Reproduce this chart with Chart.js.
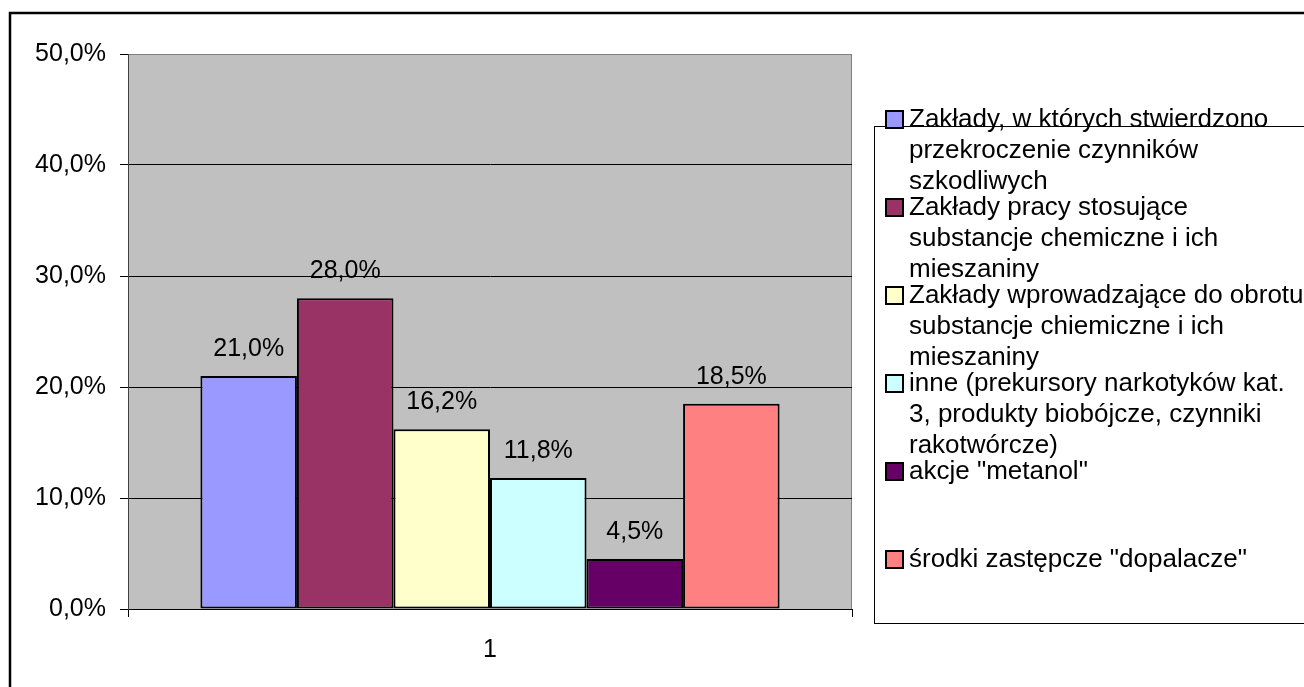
<!DOCTYPE html>
<html>
<head>
<meta charset="utf-8">
<script src="https://cdn.jsdelivr.net/npm/chart.js@4/dist/chart.umd.min.js"></script>
<style>
html,body{margin:0;padding:0;background:#fff;}
#wrap{width:1304px;height:687px;position:relative;}
</style>
</head>
<body>
<div id="wrap"><canvas id="c" width="1304" height="687"></canvas></div>
<script>
const categories = ['1'];
const seriesLabels = [
  ['Zakłady, w których stwierdzono', 'przekroczenie czynników', 'szkodliwych'],
  ['Zakłady pracy stosujące', 'substancje chemiczne i ich', 'mieszaniny'],
  ['Zakłady wprowadzające do obrotu', 'substancje chiemiczne i ich', 'mieszaniny'],
  ['inne (prekursory narkotyków kat.', '3, produkty biobójcze, czynniki', 'rakotwórcze)'],
  ['akcje "metanol"'],
  ['środki zastępcze "dopalacze"']
];
const seriesValues = [21.0, 28.0, 16.2, 11.8, 4.5, 18.5];
const seriesColors = ['#9999FF', '#993366', '#FFFFCC', '#CCFFFF', '#660066', '#FF8080'];
const yTicks = [0, 10, 20, 30, 40, 50];

const FONT = "'Liberation Sans', Arial, sans-serif";
const fmt = v => v.toFixed(1).replace('.', ',') + '%';

const datasets = seriesValues.map((v, i) => ({
  label: seriesLabels[i].join(' '),
  data: [v],
  backgroundColor: seriesColors[i],
  borderColor: '#000',
  borderWidth: 2,
  borderSkipped: false,
  categoryPercentage: 0.8,
  barPercentage: 1.0
}));

const framePlugin = {
  id: 'frame',
  beforeDraw(chart) {
    const {ctx, chartArea: a} = chart;
    ctx.save();
    ctx.fillStyle = '#C0C0C0';
    ctx.fillRect(a.left, a.top, a.right - a.left, a.bottom - a.top);
    ctx.strokeStyle = '#808080';
    ctx.lineWidth = 1;
    ctx.strokeRect(a.left + 0.5, a.top + 0.5, a.right - a.left - 1, a.bottom - a.top);
    ctx.restore();
  },
  afterDraw(chart) {
    const ctx = chart.ctx;
    ctx.save();
    // outer border
    ctx.strokeStyle = '#000';
    ctx.lineWidth = 2.5;
    ctx.strokeRect(10, 13, 1320, 700);
    // legend
    const lx = 874, ly = 126;
    ctx.lineWidth = 1;
    ctx.strokeRect(lx + 0.5, ly + 0.5, 500, 497);
    ctx.font = '26px ' + FONT;
    ctx.textBaseline = 'alphabetic';
    ctx.textAlign = 'left';
    chart.data.datasets.forEach((ds, i) => {
      const base = 127 + i * 88;
      ctx.fillStyle = ds.backgroundColor;
      ctx.fillRect(886, base - 16, 17, 17);
      ctx.strokeStyle = '#000';
      ctx.lineWidth = 2;
      ctx.strokeRect(886, base - 16, 17, 17);
      ctx.fillStyle = '#000';
      seriesLabels[i].forEach((line, j) => {
        ctx.fillText(line, 909, base + j * 31);
      });
    });
    ctx.restore();
  },
  afterDatasetsDraw(chart) {
    const ctx = chart.ctx;
    ctx.save();
    ctx.font = '25px ' + FONT;
    ctx.fillStyle = '#000';
    ctx.textAlign = 'center';
    ctx.textBaseline = 'alphabetic';
    chart.data.datasets.forEach((ds, i) => {
      const meta = chart.getDatasetMeta(i);
      meta.data.forEach((el, j) => {
        ctx.fillText(fmt(ds.data[j]), el.x, el.y - 20);
      });
    });
    ctx.restore();
  }
};

new Chart(document.getElementById('c'), {
  type: 'bar',
  data: { labels: categories, datasets },
  options: {
    responsive: false,
    animation: false,
    devicePixelRatio: 1,
    layout: { padding: { top: 54, right: 452, left: 0, bottom: 0 } },
    plugins: { legend: { display: false }, tooltip: { enabled: false } },
    scales: {
      x: {
        afterFit: s => { s.height = 78; },
        grid: { display: true, drawOnChartArea: false, color: '#000', tickLength: 8, offset: true },
        border: { color: '#000', width: 1 },
        ticks: { color: '#000', font: { family: FONT, size: 25 }, padding: 18 }
      },
      y: {
        min: 0, max: 50,
        afterFit: s => { s.width = 128; },
        afterBuildTicks: s => { s.ticks = yTicks.map(v => ({ value: v })); },
        grid: {
          color: c => (c.tick && c.tick.value === 50) ? '#808080' : '#000',
          tickColor: '#000',
          tickLength: 8,
          lineWidth: 1
        },
        border: { color: '#404040', width: 1 },
        ticks: { color: '#000', font: { family: FONT, size: 25 }, padding: 14, callback: v => fmt(v) }
      }
    }
  },
  plugins: [framePlugin]
});
</script>
</body>
</html>
